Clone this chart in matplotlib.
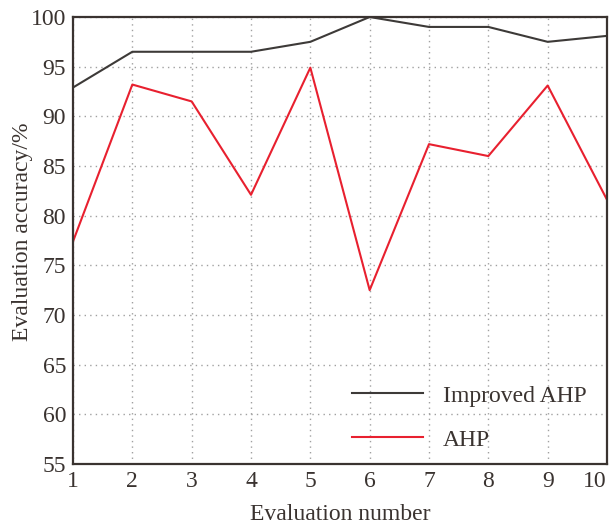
import numpy as np
import matplotlib
matplotlib.use('Agg')
import matplotlib.pyplot as plt

# values
eval_num = [1, 2, 3, 4, 5, 6, 7, 8, 9, 10]
improved_ahp = [92.9, 96.5, 96.5, 96.5, 97.5, 100.0, 99.0, 99.0, 97.5, 98.1]
ahp = [77.4, 93.2, 91.5, 82.1, 94.9, 72.5, 87.2, 86.0, 93.1, 81.6]
yticks = [55, 60, 65, 70, 75, 80, 85, 90, 95, 100]

plt.rcParams['font.family'] = ['Liberation Serif', 'DejaVu Serif']
plt.rcParams['font.size'] = 17
txt_col = '#3a3330'

fig = plt.figure(figsize=(6.13, 5.25), dpi=100)
ax = fig.add_axes([73/613, 61/525, 534/613, 447/525])

ax.plot(eval_num, improved_ahp, color='#3d3a38', lw=1.5, label='Improved AHP')
ax.plot(eval_num, ahp, color='#e8202f', lw=1.5, label='AHP')

ax.set_xlim(1, 10)
ax.set_ylim(55, 100)
ax.set_xticks(eval_num)
ax.set_yticks(yticks)
ax.tick_params(length=0, labelcolor=txt_col)
ax.tick_params(axis='x', pad=5)
ax.tick_params(axis='y', pad=5)
ax.get_xticklabels()[-1].set_horizontalalignment('right')
ax.grid(True, linestyle=(0, (1, 3)), color='#a0a0a0', lw=1.0)
for s in ax.spines.values():
    s.set_color(txt_col)
    s.set_linewidth(1.6)

ax.set_xlabel('Evaluation number', color=txt_col, labelpad=9)
ax.set_ylabel('Evaluation accuracy/%', color=txt_col, va='center')
ax.yaxis.set_label_coords(-0.094, 0.519)

leg = ax.legend(loc='lower left', frameon=False, handlelength=3.0,
                handletextpad=0.85, labelspacing=0.95, borderpad=0,
                borderaxespad=0, bbox_to_anchor=(0.522, 0.03))
for t in leg.get_texts():
    t.set_color(txt_col)

fig.savefig('out.png', dpi=100)
